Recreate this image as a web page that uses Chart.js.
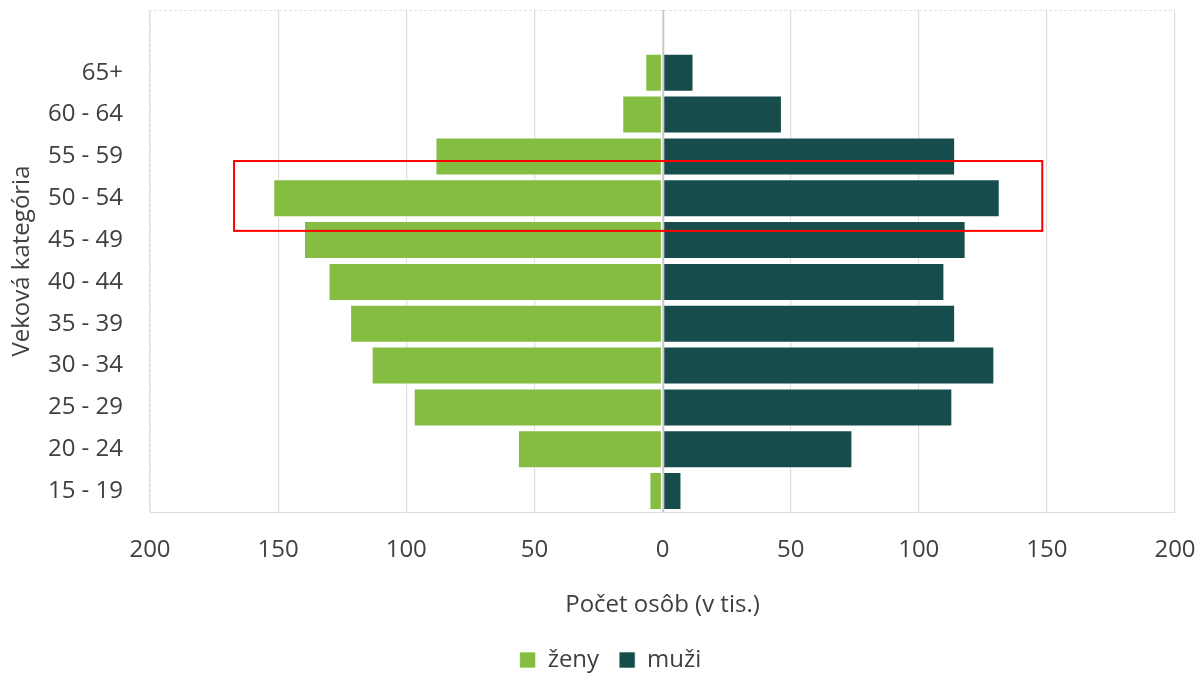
<!DOCTYPE html>
<html>
<head>
<meta charset="utf-8">
<script src="https://cdn.jsdelivr.net/npm/chart.js@4/dist/chart.umd.min.js"></script>
<style>
html,body{margin:0;padding:0;background:#fff;}
#wrap{width:1201px;height:676px;position:relative;}
</style>
</head>
<body>
<div id="wrap"><canvas id="c" width="1201" height="676"></canvas></div>
<script>
// Data
const categories = ["65+", "60 - 64", "55 - 59", "50 - 54", "45 - 49", "40 - 44", "35 - 39", "30 - 34", "25 - 29", "20 - 24", "15 - 19"];
const zeny = [6.7, 15.7, 88.6, 151.9, 139.9, 130.3, 121.9, 113.5, 97.1, 56.4, 5.1];
const muzi = [12.1, 46.6, 114.2, 131.6, 118.3, 110.0, 114.2, 129.5, 113.1, 74.1, 7.4];
const seriesNames = ["ženy", "muži"];
const xTicks = [-200, -150, -100, -50, 0, 50, 100, 150, 200];
const xTitle = "Počet osôb (v tis.)";
const yTitle = "Veková kategória";
// highlighted region (data units): x range and category index range
const highlightX = [-167.2, 148.2];
const highlightY = [3.11, 4.78];

const FONT = "'Open Sans', 'Noto Sans', sans-serif";
const FS = 24;
const TXT = "#404040";

const labels = [""].concat(categories);

const overlay = {
  id: 'overlay',
  beforeDatasetsDraw(chart) {
    const {ctx, chartArea: a} = chart;
    ctx.save();
    ctx.strokeStyle = '#e3e3e3';
    ctx.lineWidth = 1;
    ctx.setLineDash([3, 2]);
    ctx.beginPath();
    ctx.moveTo(a.left + 0.5, a.bottom);
    ctx.lineTo(a.left + 0.5, a.top + 0.5);
    ctx.lineTo(a.right, a.top + 0.5);
    ctx.stroke();
    ctx.restore();
  },
  afterDatasetsDraw(chart) {
    const {ctx, chartArea: a, scales: {x, y}} = chart;
    ctx.save();
    const x0 = Math.round(x.getPixelForValue(0)) + 0.5;
    ctx.strokeStyle = '#c8c8c8';
    ctx.lineWidth = 1.5;
    ctx.beginPath();
    ctx.moveTo(x0, a.top);
    ctx.lineTo(x0, a.bottom);
    ctx.stroke();
    const l = x.getPixelForValue(highlightX[0]);
    const r = x.getPixelForValue(highlightX[1]);
    const t = y.getPixelForValue(highlightY[0]);
    const b = y.getPixelForValue(highlightY[1]);
    ctx.strokeStyle = '#ff0000';
    ctx.lineWidth = 2;
    ctx.strokeRect(l, t, r - l, b - t);
    ctx.restore();
  }
};

new Chart(document.getElementById('c'), {
  type: 'bar',
  data: {
    labels: labels,
    datasets: [
      {
        label: seriesNames[0],
        data: [null].concat(zeny.map(v => -v)),
        backgroundColor: '#84bd41',
        borderColor: 'rgba(255,255,255,0.7)',
        borderWidth: 1,
        borderSkipped: false,
        barPercentage: 0.91,
        categoryPercentage: 1
      },
      {
        label: seriesNames[1],
        data: [null].concat(muzi),
        backgroundColor: '#174c4c',
        borderColor: 'rgba(255,255,255,0.6)',
        borderWidth: 1,
        borderSkipped: false,
        barPercentage: 0.91,
        categoryPercentage: 1
      }
    ]
  },
  options: {
    indexAxis: 'y',
    responsive: false,
    animation: false,
    layout: {padding: {top: 10, right: 26, bottom: -6, left: 46}},
    plugins: {
      legend: {
        position: 'bottom',
        labels: {
          color: TXT,
          font: {family: FONT, size: FS},
          boxWidth: 16,
          boxHeight: 16,
          padding: 20
        }
      },
      tooltip: {enabled: false}
    },
    scales: {
      x: {
        type: 'linear',
        stacked: true,
        min: -200,
        max: 200,
        afterBuildTicks(scale) { scale.ticks = xTicks.map(v => ({value: v})); },
        afterFit(scale) { scale.height = 116; scale.paddingLeft = 0; scale.paddingRight = 0; },
        ticks: {
          color: TXT,
          font: {family: FONT, size: FS},
          padding: 24,
          maxRotation: 0,
          callback: v => Math.abs(v)
        },
        grid: {color: '#dedede', lineWidth: 1.2, drawTicks: false},
        border: {display: true, color: '#dedede'},
        title: {
          display: true,
          text: xTitle,
          color: TXT,
          font: {family: FONT, size: FS},
          padding: {top: 10, bottom: 8}
        }
      },
      y: {
        type: 'category',
        stacked: true,
        offset: true,
        afterFit(scale) { scale.width = 104; scale.paddingTop = 0; scale.paddingBottom = 0; },
        ticks: {
          color: TXT,
          font: {family: FONT, size: FS},
          padding: 27,
          autoSkip: false
        },
        grid: {display: false, drawTicks: false},
        border: {display: false},
        title: {
          display: true,
          text: yTitle,
          color: TXT,
          font: {family: FONT, size: FS},
          padding: {top: -38, bottom: 0}
        }
      }
    }
  },
  plugins: [overlay]
});
</script>
</body>
</html>
